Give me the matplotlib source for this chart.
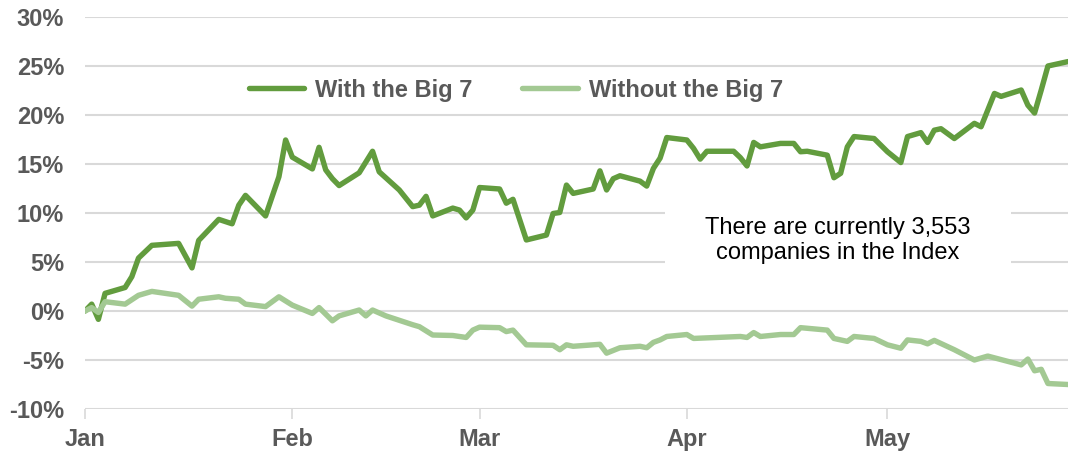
import matplotlib
matplotlib.use("Agg")
import matplotlib.pyplot as plt
import datetime as dt

YEAR_START = dt.date(2023, 1, 1)

# day offsets (days since Jan 1) and cumulative return (%)
with_days = [0, 1, 2, 3, 6, 7, 8, 10, 14, 16, 17, 20, 22, 23, 24, 27, 28, 29, 30, 31,
             34, 35, 36, 37, 38, 41, 42, 43, 44, 47, 49, 50, 51, 52, 55, 56, 57, 58, 59,
             62, 63, 64, 66, 69, 70, 71, 72, 73, 76, 77, 78, 79, 80, 83, 84, 85, 86, 87,
             90, 91, 92, 93, 97, 98, 99, 100, 101, 104, 106, 107, 108, 111, 112, 113, 114,
             115, 118, 120, 122, 123, 125, 126, 127, 128, 130, 133, 134, 135, 136, 137,
             140, 141, 142, 143, 144, 147]
with_vals = [0.0, 0.7, -0.85, 1.8, 2.4, 3.5, 5.4, 6.7, 6.9, 4.4, 7.2, 9.35, 8.9, 10.8, 11.8,
             9.7, 11.7, 13.7, 17.45, 15.7, 14.5, 16.7, 14.4, 13.5, 12.8, 14.1, 15.2, 16.3,
             14.2, 12.35, 10.65, 10.8, 11.7, 9.7, 10.5, 10.3, 9.5, 10.3, 12.6, 12.45, 11.0,
             11.4, 7.25, 7.75, 9.95, 10.05, 12.85, 12.0, 12.45, 14.3, 12.35, 13.5, 13.8,
             13.25, 12.75, 14.55, 15.6, 17.7, 17.45, 16.6, 15.5, 16.3, 16.3, 15.65, 14.8,
             17.2, 16.75, 17.1, 17.1, 16.25, 16.3, 15.9, 13.6, 14.05, 16.75, 17.8, 17.6,
             16.25, 15.15, 17.8, 18.2, 17.2, 18.45, 18.6, 17.6, 19.15, 18.8, 20.5, 22.2,
             21.9, 22.55, 21.0, 20.2, 22.55, 25.0, 25.45]

without_days = [0, 1, 2, 3, 6, 8, 10, 14, 16, 17, 20, 21, 23, 24, 27, 29, 31, 34, 35, 37,
                38, 41, 42, 43, 45, 49, 50, 52, 55, 57, 58, 59, 62, 63, 64, 66, 70, 71, 72,
                73, 77, 78, 80, 83, 84, 85, 86, 87, 90, 91, 98, 99, 100, 101, 104, 106, 107,
                111, 112, 114, 115, 118, 120, 122, 123, 125, 126, 127, 130, 133, 135, 140,
                141, 142, 143, 144, 147]
without_vals = [0.0, 0.35, -0.15, 0.95, 0.7, 1.6, 2.0, 1.6, 0.5, 1.2, 1.45, 1.3, 1.2, 0.7,
                0.45, 1.45, 0.6, -0.25, 0.35, -1.0, -0.5, 0.1, -0.5, 0.1, -0.5, -1.4, -1.6,
                -2.45, -2.5, -2.7, -1.95, -1.65, -1.7, -2.1, -1.95, -3.45, -3.5, -3.95, -3.45,
                -3.6, -3.4, -4.3, -3.75, -3.6, -3.75, -3.2, -2.95, -2.6, -2.4, -2.8, -2.6,
                -2.7, -2.2, -2.6, -2.4, -2.4, -1.7, -1.95, -2.8, -3.1, -2.6, -2.8, -3.45,
                -3.8, -2.95, -3.1, -3.35, -3.0, -3.95, -5.0, -4.6, -5.5, -4.9, -6.1, -5.95,
                -7.4, -7.5]

series_labels = ["With the Big 7", "Without the Big 7"]
month_labels = ["Jan", "Feb", "Mar", "Apr", "May"]
y_ticks = [-10, -5, 0, 5, 10, 15, 20, 25, 30]
note_text = "There are currently 3,553\ncompanies in the Index"

DARK = "#629C3E"
LIGHT = "#A3C993"
GRAY = "#595959"
GRID = "#D9D9D9"

def to_dates(days):
    return [YEAR_START + dt.timedelta(days=d) for d in days]

plt.rcParams['font.family'] = ['Liberation Sans', 'DejaVu Sans']

fig = plt.figure(figsize=(10.7, 4.55), dpi=100)
ax = fig.add_axes([85 / 1070, 1 - 409 / 455, (1068 - 85) / 1070, (409 - 17) / 455])

l1, = ax.plot(to_dates(with_days), with_vals, color=DARK, lw=3.9, zorder=3,
              solid_joinstyle='round', solid_capstyle='round', label=series_labels[0])
l2, = ax.plot(to_dates(without_days), without_vals, color=LIGHT, lw=3.9, zorder=3,
              solid_joinstyle='round', solid_capstyle='round', label=series_labels[1])

ax.set_ylim(-10, 30)
ax.set_yticks(y_ticks)
ax.set_yticklabels([f"{v}%" for v in y_ticks])
ax.set_xlim(YEAR_START - dt.timedelta(days=0.1), YEAR_START + dt.timedelta(days=max(with_days)))
month_starts = [dt.date(2023, m, 1) for m in range(1, 6)]
ax.set_xticks(month_starts)
ax.set_xticklabels(month_labels)

for s in ax.spines.values():
    s.set_visible(False)
ax.grid(axis='y', color=GRID, lw=1.5, zorder=0)
ax.set_axisbelow(True)
ax.tick_params(axis='y', length=0, pad=15, labelsize=17, labelcolor=GRAY)
ax.tick_params(axis='x', length=7, width=1.2, color=GRID, pad=7, labelsize=17, labelcolor=GRAY)
for lab in ax.get_xticklabels() + ax.get_yticklabels():
    lab.set_fontweight('bold')

ax.text(0.766, 0.43, note_text, transform=ax.transAxes, ha='center', va='center',
        fontsize=17, color='#000000', linespacing=1.2, zorder=2.5,
        bbox=dict(facecolor='white', edgecolor='none', pad=29))

leg = fig.legend(handles=[l1, l2], loc='center', bbox_to_anchor=(516 / 1070, 1 - 90 / 455),
                 ncol=2, frameon=False, handlelength=2.35, columnspacing=2.1,
                 handletextpad=0.47, prop={'weight': 'bold', 'size': 17})
for t in leg.get_texts():
    t.set_color(GRAY)

fig.savefig("out.png", dpi=100)
